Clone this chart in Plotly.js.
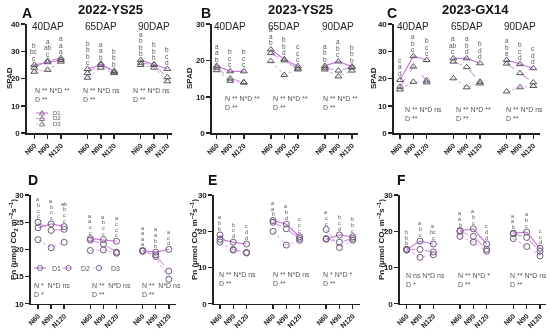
<!DOCTYPE html>
<html><head><meta charset="utf-8">
<script src="https://cdn.plot.ly/plotly-3.0.1.min.js"></script>
<style>html,body{margin:0;padding:0;background:#fff}#chart{width:550px;height:333px}.main-svg{will-change:transform}</style>
</head><body><div id="chart"></div>
<script>
// ---------------- DATA ----------------
const xPos = [0,1,2,4,5,6,8,9,10];
const tickLabels = ['N60','N90','N120','N60','N90','N120','N60','N90','N120'];
const dapLabels = ['40DAP','65DAP','90DAP'];
const seriesNames = ['D1','D2','D3'];

// A: 2022-YS25 SPAD
const A_D1 = [25.0,26.0,26.8, 23.5,25.0,22.8, 26.8,25.2,23.5];
const A_D2 = [24.0,26.5,27.5, 22.0,25.5,22.3, 25.8,25.0,20.5];
const A_D3 = [22.5,23.2,26.2, 20.3,24.0,22.0, 25.0,24.0,19.0];
const A_letters = [['b','bc','c'],['a','ab','c'],['a','a','a'],['b','b','b','c'],['a','a','b'],['b','b','b'],['a','b','b','b'],['b','b','b'],['b','c','d']];
const A_stats = ['N ** N*D **<br>D **','N ** N*D ns<br>D **','N ** N*D ns<br>D **'];

// B: 2023-YS25 SPAD
const B_D1 = [18.5,17.0,17.0, 23.0,20.3,18.4, 18.5,19.7,18.3];
const B_D2 = [18.0,15.0,14.0, 22.0,20.0,17.8, 18.0,17.2,18.0];
const B_D3 = [17.3,14.4,13.9, 19.8,16.0,17.5, 17.5,15.6,17.2];
const B_letters = [['a','a','b'],['b','c','c'],['b','c','c'],['a','a','b'],['b','b','d'],['c','c','c'],['a','b','b'],['a','b','c'],['b','b','b']];
const B_stats = ['N ** N*D **<br>D **','N ** N*D **<br>D **','N ** N*D **<br>D **'];

// C: 2023-GX14 SPAD
const C_D1 = [19.5,28.2,26.8, 27.4,27.4,25.6, 26.8,25.3,23.8];
const C_D2 = [17.0,24.4,19.3, 26.2,24.2,18.8, 25.5,22.0,18.6];
const C_D3 = [16.0,18.8,18.6, 20.1,16.8,18.2, 15.3,16.8,17.3];
const C_letters = [['c','a','d'],['a','b','c'],['b','c','c'],['a','ab','c'],['a','b','d'],['b','d','d'],['a','b','e'],['b','c','d'],['c','d','d']];
const C_stats = ['N ** N*D ns<br>D **','N ** N*D **<br>D **','N ** N*D ns<br>D **'];

// D: 2022-YS25 Pn
const D_D1 = [24.0,24.7,24.2, 22.0,21.8,21.5, 19.8,19.5,20.0];
const D_D2 = [25.0,23.5,23.7, 21.7,21.0,19.5, 19.7,19.0,16.0];
const D_D3 = [21.8,20.3,21.3, 19.8,19.9,19.3, 19.7,18.7,14.5];
const D_letters = [['a','b','c','c'],['a','b','c','c'],['ab','b','c','c'],['a','a','c','c'],['a','b','c','c'],['a','c','c','c'],['a','a','a','a'],['a','a','b','b'],['a','c','d']];
const D_stats = ['N *&nbsp;&nbsp;N*D ns<br>D *','N **&nbsp;&nbsp;N*D ns<br>D **','N **&nbsp;&nbsp;N*D ns<br>D **'];

// E: 2023-YS25 Pn
const E_D1 = [17.8,17.0,16.5, 23.0,22.0,18.5, 17.8,19.0,18.5];
const E_D2 = [19.0,15.0,14.2, 22.5,20.7,18.0, 18.0,17.0,18.0];
const E_D3 = [17.0,14.8,14.0, 20.0,16.2,17.5, 20.5,15.5,17.5];
const E_letters = [['a','b','b'],['b','c','d'],['c','d','d'],['a','a','b'],['a','b','d'],['c','c','c'],['a','c','c'],['b','c','d'],['b','b','c']];
const E_stats = ['N ** N*D ns<br>D **','N ** N*D ns<br>D **','N * N*D *<br>D **'];

// F: 2023-GX14 Pn
const F_D1 = [15.0,17.3,16.5, 20.2,20.7,16.5, 19.5,19.8,15.3];
const F_D2 = [15.0,15.0,14.3, 20.0,18.6,15.0, 19.3,18.3,14.5];
const F_D3 = [14.8,12.8,13.5, 18.6,17.0,14.5, 18.0,15.8,13.2];
const F_letters = [['b','b','b'],['a','b','c'],['a','bc','c'],['a','a','b'],['a','b','c'],['c','d','d'],['a','a','b'],['a','b','c'],['c','c','d']];
const F_stats = ['N ns N*D ns<br>D *','N ** N*D *<br>D **','N ** N*D ns<br>D **'];

// ---------------- STYLE / LAYOUT ----------------
const FONT = 'Arial, "Liberation Sans", sans-serif';
const lineColors = ['#c47bd9','#d8a2e6','#e2b8ec'];
const lineDash = ['solid','dash','dot'];

const panels = [
  {tag:'A', d:[A_D1,A_D2,A_D3], letters:A_letters, stats:A_stats, sym:'triangle-up-open',
   xr:[-0.55,10.35], xd:[27,172], yr:[0,40], yd:[0.6,0.928], dt:10, statY:17.6, statOff:[-0.1,-0.5,-0.75], lf:6.5, ls:6.5},
  {tag:'B', d:[B_D1,B_D2,B_D3], letters:B_letters, stats:B_stats, sym:'triangle-up-open',
   xr:[-0.35,10.45], xd:[212,358], yr:[0,30], yd:[0.6,0.928], dt:10, statY:11.0, statOff:[0.45,0,-0.27], lf:6.5, ls:6.5},
  {tag:'C', d:[C_D1,C_D2,C_D3], letters:C_letters, stats:C_stats, sym:'triangle-up-open',
   xr:[-0.45,10.5], xd:[394,540], yr:[0,40], yd:[0.6,0.928], dt:10, statY:10.6, statOff:[0.25,0.05,-0.2], lf:6.5, ls:6.5},
  {tag:'D', d:[D_D1,D_D2,D_D3], letters:D_letters, stats:D_stats, sym:'circle-open',
   xr:[-0.54,10.55], xd:[31,176], yr:[10,30], yd:[0.088,0.414], dt:5, statY:14.3, statOff:[-0.5,0,-0.2], lf:5.5, ls:5.6},
  {tag:'E', d:[E_D1,E_D2,E_D3], letters:E_letters, stats:E_stats, sym:'circle-open',
   xr:[-0.45,10.55], xd:[214,360], yr:[0,30], yd:[0.088,0.414], dt:10, statY:9.6, statOff:[-0.25,-0.15,-0.4], lf:5.5, ls:5.8},
  {tag:'F', d:[F_D1,F_D2,F_D3], letters:F_letters, stats:F_stats, sym:'circle-open',
   xr:[-0.5,10.45], xd:[400,546], yr:[0,30], yd:[0.088,0.414], dt:10, statY:9.3, statOff:[-0.2,-0.3,-0.4], lf:5.5, ls:5.8}
];

const W = 550, H = 333;
const traces = [];
const layout = {
  width: W, height: H, margin:{l:0,r:0,t:0,b:0},
  paper_bgcolor:'#fff', plot_bgcolor:'rgba(0,0,0,0)',
  showlegend:false, font:{family:FONT, color:'#222'},
  annotations:[], shapes:[]
};

function withGaps(arr){ // break the connecting line between DAP groups
  const out=[];
  arr.forEach((v,i)=>{ if(i>0 && i%3===0) out.push(null); out.push(v); });
  return out;
}

panels.forEach((p,pi)=>{
  const sfx = pi===0 ? '' : String(pi+1);
  const xa = 'x'+sfx, ya = 'y'+sfx;
  [2,1,0].forEach(si=>{
    traces.push({
      type:'scatter', mode:'lines+markers', name:seriesNames[si],
      x: withGaps(xPos), y: withGaps(p.d[si]), connectgaps:false,
      xaxis:xa, yaxis:ya,
      line:{color:lineColors[si], width:1.2, dash:lineDash[si]},
      marker:{symbol:p.sym, size:6, color: pi<3 ? '#555' : '#6b5a78', line:{width:1}}
    });
  });
  layout['xaxis'+sfx] = {
    domain:[p.xd[0]/W, p.xd[1]/W], range:p.xr, anchor:ya,
    tickvals:xPos, ticktext:tickLabels.map(t=>'<b>'+t+'</b>'), tickangle:-45,
    tickfont:{size:7, family:FONT, color:'#222'},
    ticks:'outside', ticklen:4, tickwidth:1.5, tickcolor:'#222',
    showline:true, linewidth:1.6, linecolor:'#222', showgrid:false, zeroline:false, fixedrange:true
  };
  layout['yaxis'+sfx] = {
    domain:p.yd, range:p.yr, anchor:xa, dtick:p.dt, tick0:p.yr[0],
    tickfont:{size:8, family:FONT, color:'#222'}, tickprefix:'<b>', ticksuffix:'</b>',
    ticks:'outside', ticklen:4, tickwidth:1.5, tickcolor:'#222',
    showline:true, linewidth:1.6, linecolor:'#222', showgrid:false, zeroline:false, fixedrange:true
  };
  // significance letters: one text per letter, stacked with a fixed pixel pitch
  p.letters.forEach((col,i)=>{
    const top = Math.max(p.d[0][i], p.d[1][i], p.d[2][i]);
    const n = col.length;
    col.forEach((L,k)=>{
      layout.annotations.push({xref:xa, yref:ya, x:xPos[i], y:top, yanchor:'bottom', xanchor:'center',
        yshift: 1 + (n-1-k)*p.ls, text:L, showarrow:false,
        font:{size:p.lf, family:FONT, color:'#555'}});
    });
  });
  p.stats.forEach((s,g)=>{
    layout.annotations.push({xref:xa, yref:ya, x:xPos[g*3]+p.statOff[g], y:p.statY, xanchor:'left', yanchor:'top',
      align:'left', text:s, showarrow:false, font:{size:7, family:FONT, color:'#555'}});
  });
  if(pi<3){
    dapLabels.forEach((d,g)=>{
      layout.annotations.push({xref:xa, yref:ya+' domain', x:xPos[g*3+1], y:1, yanchor:'middle', xanchor:'center', yshift:-3,
        text:d, showarrow:false, font:{size:10, family:FONT, color:'#222'}});
    });
  }
});

const tags = [['A',27,13],['B',206,13],['C',392,13],['D',33,180],['E',212,180],['F',401,180]];
tags.forEach(t=>layout.annotations.push({xref:'paper',yref:'paper',x:t[1]/W,y:1-t[2]/H,xanchor:'center',yanchor:'middle',
  text:'<b>'+t[0]+'</b>',showarrow:false,font:{size:14,family:FONT,color:'#111'}}));
const titles = [['2022-YS25',110,10],['2023-YS25',300,10],['2023-GX14',475,10]];
titles.forEach(t=>layout.annotations.push({xref:'paper',yref:'paper',x:t[1]/W,y:1-t[2]/H,xanchor:'center',yanchor:'middle',
  text:'<b>'+t[0]+'</b>',showarrow:false,font:{size:13,family:FONT,color:'#111'}}));
[[9,78],[189,78],[373,78]].forEach(t=>layout.annotations.push({xref:'paper',yref:'paper',x:t[0]/W,y:1-t[1]/H,
  xanchor:'center',yanchor:'middle',textangle:-90,text:'<b>SPAD</b>',showarrow:false,font:{size:8,family:FONT,color:'#222'}}));
[[13,240],[194,240],[381,240]].forEach(t=>layout.annotations.push({xref:'paper',yref:'paper',x:t[0]/W,y:1-t[1]/H,
  xanchor:'center',yanchor:'middle',textangle:-90,
  text:'<b>Pn (μmol CO<sub>2</sub> m<sup>−2</sup>s<sup>−1</sup>)</b>',showarrow:false,font:{size:8,family:FONT,color:'#222'}}));

function keyLine(x0,x1,y,si){
  layout.shapes.push({type:'line',xref:'paper',yref:'paper',x0:x0/W,x1:x1/W,y0:1-y/H,y1:1-y/H,
    line:{color:lineColors[si],width:1.2,dash:lineDash[si]}});
}
function keyTri(cx,cy){
  layout.shapes.push({type:'path',xref:'paper',yref:'paper',xsizemode:'pixel',ysizemode:'pixel',
    xanchor:cx/W,yanchor:1-cy/H,path:'M-2.6,-2 L2.6,-2 L0,2.6 Z',line:{color:'#666',width:0.8},fillcolor:'rgba(0,0,0,0)'});
}
function keyCirc(cx,cy){
  layout.shapes.push({type:'circle',xref:'paper',yref:'paper',xsizemode:'pixel',ysizemode:'pixel',
    xanchor:cx/W,yanchor:1-cy/H,x0:-2.6,x1:2.6,y0:-2.6,y1:2.6,line:{color:'#6b5a78',width:0.9},fillcolor:'rgba(0,0,0,0)'});
}
function keyText(x,y,t,fs){
  layout.annotations.push({xref:'paper',yref:'paper',x:x/W,y:1-y/H,xanchor:'left',yanchor:'middle',
    text:t,showarrow:false,font:{size:fs,family:FONT,color:'#555'}});
}
[113,118.5,124].forEach((y,si)=>{ keyLine(36,48,y,si); keyTri(42,y); keyText(51,y,seriesNames[si],6); });
[[40,50],[68.5,79],[99,109]].forEach((c,si)=>{ keyLine(c[0]-6,c[0]+6,268,si); keyCirc(c[0],268); keyText(c[1],268,seriesNames[si],7); });

Plotly.newPlot('chart', traces, layout, {staticPlot:true, displayModeBar:false});
</script>
</body></html>
